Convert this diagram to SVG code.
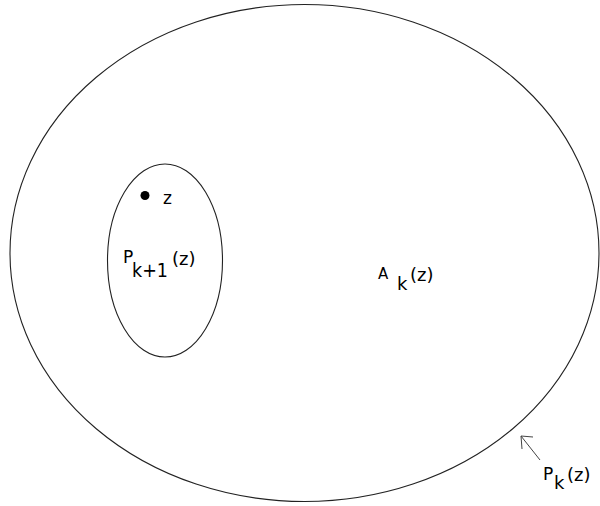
<svg xmlns="http://www.w3.org/2000/svg" width="600" height="506" viewBox="0 0 600 506">
<style>
.shape{fill:none;stroke:#222;stroke-width:1.1}
.t{font-family:"DejaVu Sans","Liberation Sans",sans-serif;fill:#000}
.conn{fill:none;stroke:#444;stroke-width:1}
</style>
<rect width="600" height="506" fill="#fff"/>
<g id="outer">
<ellipse class="shape" cx="304.5" cy="253" rx="294.5" ry="248.5"/>
<text class="t" x="378" y="278.5" font-size="15">A</text>
<text class="t" x="397" y="290" font-size="18">k</text>
<text class="t" x="410" y="281" font-size="18">(z)</text>
</g>
<g id="inner">
<ellipse class="shape" cx="165" cy="260.5" rx="57.5" ry="96.5"/>
<text class="t" x="123" y="263" font-size="17">P</text>
<text class="t" x="132" y="277" font-size="19" textLength="36" lengthAdjust="spacingAndGlyphs">k+1</text>
<text class="t" x="172" y="265" font-size="18">(z)</text>
</g>
<g id="point">
<circle cx="145" cy="195.5" r="4.5" fill="#000"/>
<text class="t" x="163" y="204" font-size="17">z</text>
</g>
<g id="label-pk">
<text class="t" x="543" y="480" font-size="17">P</text>
<text class="t" x="554" y="489" font-size="18">k</text>
<text class="t" x="567" y="481" font-size="18">(z)</text>
</g>
<g id="connectors">
<line class="conn" x1="540" y1="460" x2="521" y2="436"/>
<polyline class="conn" points="533,437 521,436 522,449"/>
</g>
</svg>
